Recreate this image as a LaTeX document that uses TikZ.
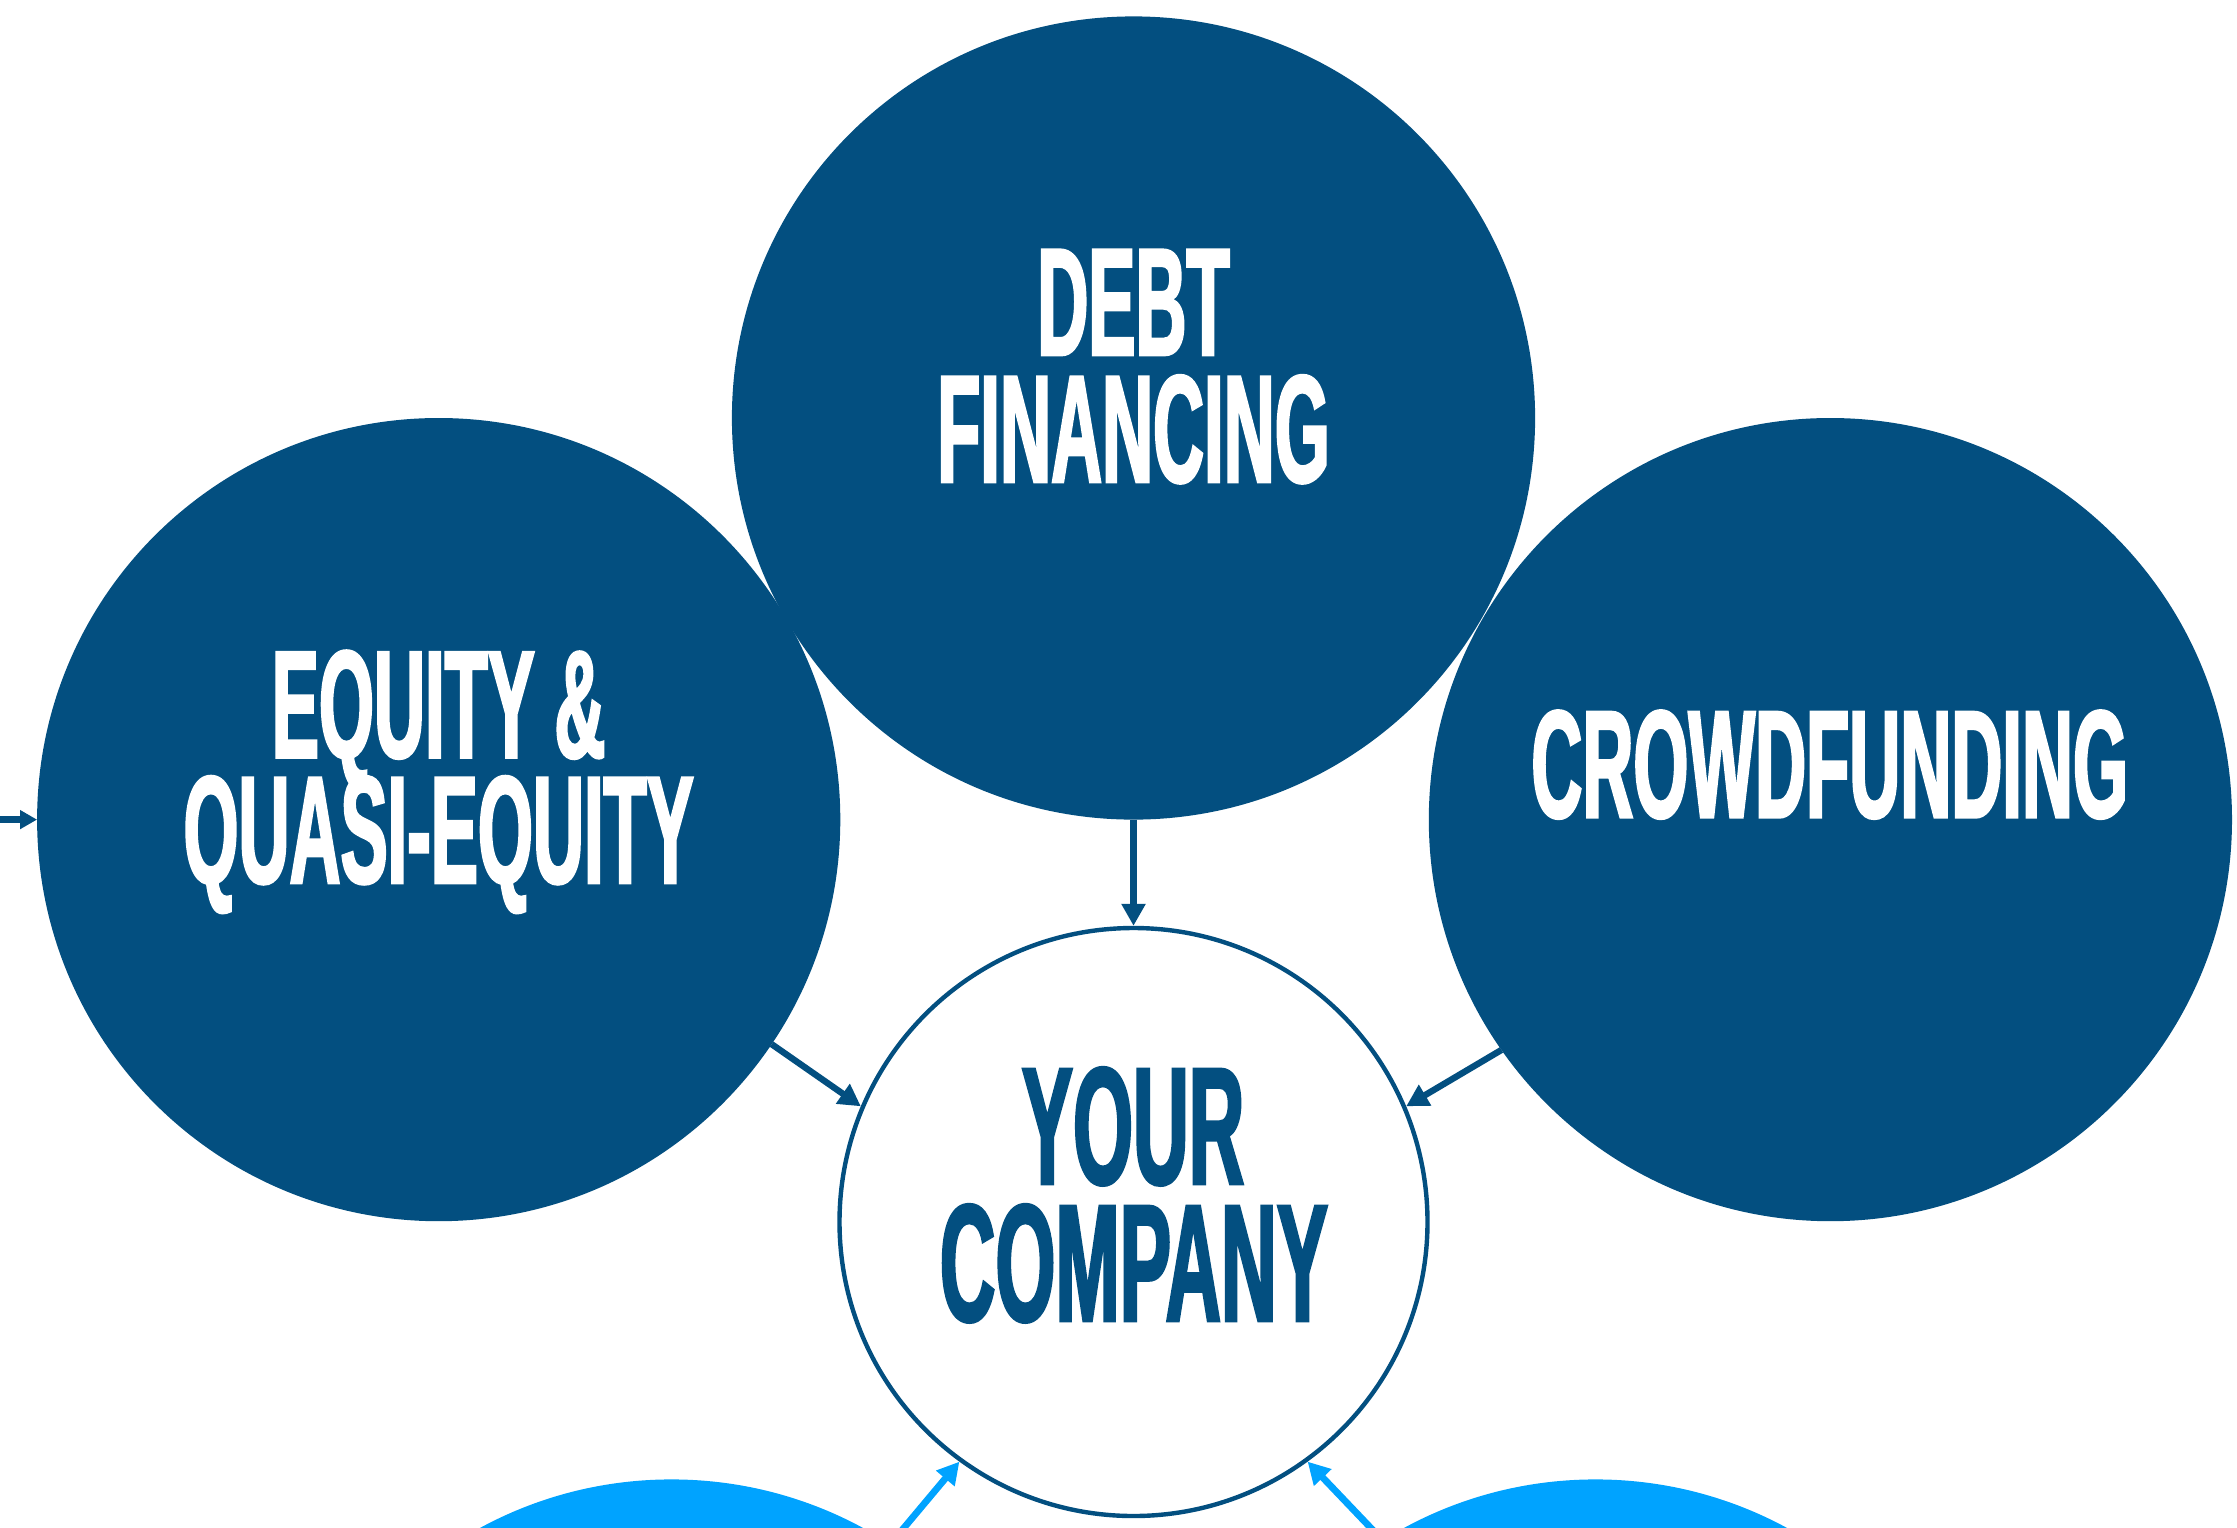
\documentclass[tikz,border=0pt]{standalone}
\usepackage{fontspec}
\usetikzlibrary{arrows.meta}
\newfontfamily\cond[FakeStretch=0.46,FakeBold=1.5]{Liberation Sans}
\definecolor{dkblue}{HTML}{034F80}
\definecolor{ltblue}{HTML}{00A3FF}
\begin{document}
\begin{tikzpicture}[x=0.5pt,y=-0.5pt,
  bigc/.style={circle,fill=dkblue,minimum size=401.6pt,inner sep=0pt,outer sep=0pt},
  lowc/.style={circle,fill=ltblue,minimum size=401.6pt,inner sep=0pt,outer sep=0pt},
  compc/.style={circle,fill=white,draw=dkblue,line width=2.2pt,minimum size=294pt,inner sep=0pt},
  lbl/.style={anchor=base,inner sep=0pt,text height=55pt,text depth=0pt,text=white,font=\cond\bfseries\fontsize{76.8}{80}\selectfont},
  clbl/.style={anchor=base,inner sep=0pt,text height=60pt,text depth=0pt,text=dkblue,font=\cond\bfseries\fontsize{83.8}{86}\selectfont},
  arr/.style={draw=dkblue,line width=3.2pt,-{Triangle[length=11pt,width=11.5pt]}},
  larr/.style={draw=ltblue,line width=3.4pt,-{Triangle[length=11pt,width=11.5pt]}}
]
\useasboundingbox (0,0) rectangle (2237,1527);
\clip (0,0) rectangle (2237,1527);
% circles
\node[bigc] (eq) at (438.7,819.6) {};
\node[bigc] (cf) at (1830.4,819.6) {};
\node[bigc] (de) at (1133.5,418) {};
\node[lowc] (bl) at (671.5,1881) {};
\node[lowc] (br) at (1595.5,1881) {};
\node[compc] (co) at (1133.5,1222) {};
% labels
\node[lbl] (t1) at (1133.5,355.2) {DEBT};
\node[lbl] (t2) at (1133.5,482.2) {FINANCING};
\node[lbl] (t3) at (438.7,757.6) {EQUITY \&};
\node[lbl] (t4) at (438.7,883.1) {QUASI-EQUITY};
\node[lbl] (t5) at (1829.7,817.5) {CROWDFUNDING};
\node[clbl] (t6) at (1133,1184.1) {YOUR};
\node[clbl] (t7) at (1134,1321.1) {COMPANY};
% arrows
\coordinate (lft) at (0,819.6);
\draw[draw=dkblue,line width=3.2pt,-{Triangle[length=8.5pt,width=9pt]}] (lft) -- (eq.180);
\draw[arr] (de.south) -- (co.north);
\draw[arr] (eq.-34.9) -- (co.157);
\draw[arr] (cf.-145.1) -- (co.23);
\draw[larr] (bl.57.65) -- (co.234);
\draw[larr] (br.122.35) -- (co.306);
\end{tikzpicture}
\end{document}
